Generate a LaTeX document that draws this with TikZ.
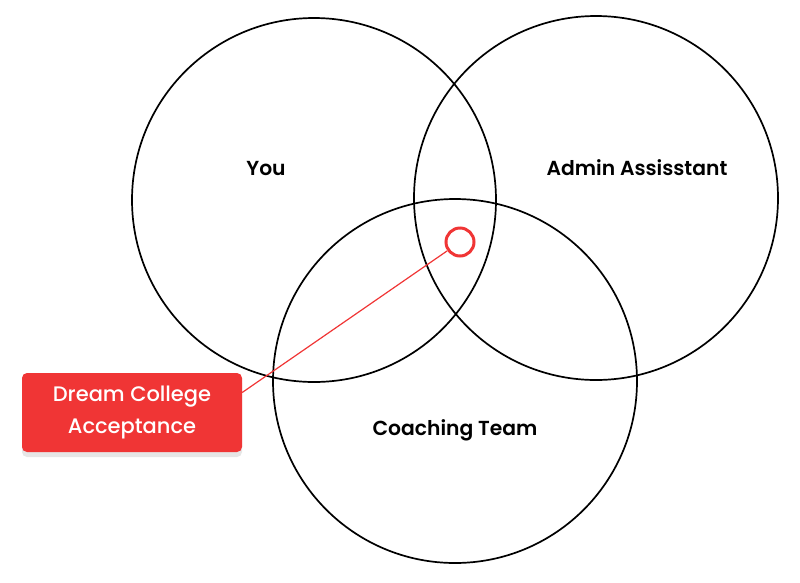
\documentclass[tikz,border=0pt]{standalone}
\usepackage{fontspec}
\setmainfont{Poppins}
\newfontfamily\semifont{Poppins SemiBold}
\newfontfamily\medfont{Poppins Medium}
\usetikzlibrary{shadows}
\definecolor{alertred}{HTML}{F03535}
\begin{document}
\begin{tikzpicture}[
        x=1pt, y=-1pt,
        venn/.style={circle, draw, line width=1.7pt, minimum size=364pt, inner sep=0pt},
        label/.style={font=\fontsize{20.3}{22}\semifont},
        alert/.style={rectangle, rounded corners=5pt, fill=alertred, text=white, align=center,
            minimum width=220pt, minimum height=79pt, font=\fontsize{21}{32}\medfont,
            drop shadow={shadow xshift=0pt, shadow yshift=-5pt, opacity=0.2}},
        target/.style={circle, draw=alertred, line width=3pt, minimum size=28pt, inner sep=0pt},
        link/.style={draw=alertred, line width=1.2pt}
    ]
    \useasboundingbox (0,0) rectangle (800,582);

    % Circles
    \node[venn] (you) at (314, 200) {};
    \node[venn] (admin) at (596, 198) {};
    \node[venn] (coach) at (455, 381) {};

    % Labels
    \node[label] (youlabel) at (266, 168) {You};
    \node[label] (adminlabel) at (637, 168) {Admin Assisstant};
    \node[label] (coachlabel) at (455, 430) {Coaching Team};

    % Goal
    \node[target] (goal) at (460, 242) {};
    \node[alert] (dream) at (132, 412.5) {Dream College\\Acceptance};

    % Connector
    \draw[link] ([yshift=20pt]dream.east) -- (goal);

\end{tikzpicture}
\end{document}
